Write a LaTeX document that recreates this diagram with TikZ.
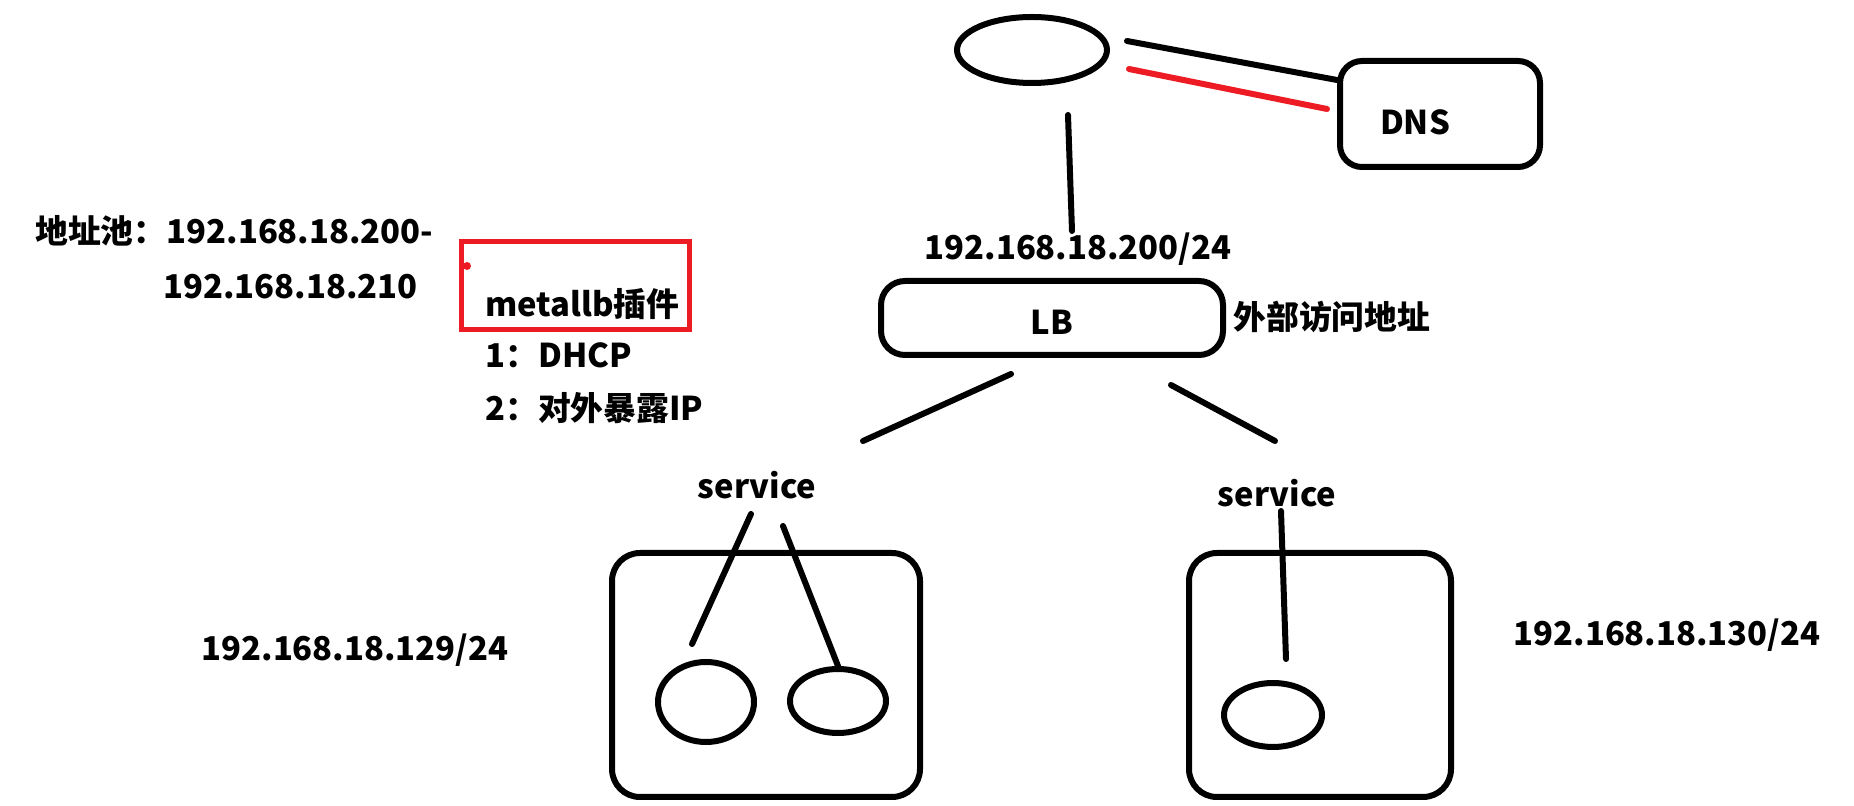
\documentclass[tikz,border=0pt]{standalone}
\usepackage{fontspec}
\setmainfont{Noto Sans CJK SC}
\usepackage{tikz}
\usetikzlibrary{shapes.geometric}
\definecolor{penred}{rgb}{0.93, 0.11, 0.14}

\begin{document}
\begin{tikzpicture}[x=.5pt, y=-.5pt,
    stroke/.style={line width=3pt, line cap=round},
    txt/.style={font=\fontsize{16.4}{20}\selectfont\bfseries, inner sep=0pt},
    pod/.style={draw, ellipse, line width=3pt, inner sep=0pt},
    frame/.style={draw, line width=3pt, rounded corners=14pt, inner sep=0pt}]
    \useasboundingbox (0,0) rectangle (1854,806);
    % top: client and DNS
    \node[pod, minimum width=75pt, minimum height=33pt] (client) at (1032,50) {};
    \node[frame, rounded corners=11pt, minimum width=100pt, minimum height=53pt] (dns) at (1440,114) {};
    \node[txt] (dnstext) at (1415,122) {DNS};
    \coordinate (q1) at (1127,41);
    \coordinate (q2) at (1129,69);
    \coordinate (r1) at (1327,109);
    \draw[stroke] (q1) -- (dns.west |- 0,80);
    \draw[stroke, penred, line width=3pt] (q2) -- (r1);
    % LB
    \node[txt] (lbip) at (1078,249) {192.168.18.200/24};
    \node[frame, rounded corners=12pt, minimum width=171pt, minimum height=37pt] (lb) at (1052,318) {};
    \node[txt] (lbtext) at (1052,322) {LB};
    \node[txt, anchor=west] (extaddr) at (1233,317) {外部访问地址};
    \coordinate (v1) at (1068,115);
    \coordinate (v2) at (1072,231);
    \draw[stroke] (v1) -- (v2);
    % services
    \node[txt] (svcA) at (757,485) {service};
    \node[txt] (svcB) at (1277,493) {service};
    \coordinate (a1) at (1011,374);
    \coordinate (a2) at (863,441);
    \coordinate (b1) at (1171,385);
    \coordinate (b2) at (1275,441);
    \draw[stroke] (a1) -- (a2);
    \draw[stroke] (b1) -- (b2);
    % nodes and pods
    \node[frame, minimum width=154pt, minimum height=122pt] (nodeA) at (766,675) {};
    \node[frame, minimum width=131pt, minimum height=122pt] (nodeB) at (1320,675) {};
    \node[pod, minimum width=48pt, minimum height=40pt] (podA1) at (706,702) {};
    \node[pod, minimum width=48pt, minimum height=32pt] (podA2) at (838,701) {};
    \node[pod, minimum width=49pt, minimum height=32pt] (podB1) at (1273,715) {};
    \coordinate (c1) at (751,514);
    \coordinate (c2) at (692,644);
    \coordinate (d1) at (783,526);
    \coordinate (e1) at (1281,511);
    \coordinate (e2) at (1286,659);
    \draw[stroke] (c1) -- (c2);
    \draw[stroke] (d1) -- (podA2.north);
    \draw[stroke] (e1) -- (e2);
    \node[txt] (ipA) at (355,650) {192.168.18.129/24};
    \node[txt] (ipB) at (1667,635) {192.168.18.130/24};
    % address pool and metallb
    \node[txt, anchor=west] (pool1) at (35,231) {地址池：192.168.18.200-};
    \node[txt, anchor=west] (pool2) at (163,287) {192.168.18.210};
    \node[draw=penred, line width=2.5pt, minimum width=114pt, minimum height=44pt] (mlb) at (575,286) {};
    \fill[penred] (467,266) circle (2pt);
    \node[txt, anchor=west] (mlbtext) at (485,304) {metallb插件};
    \node[txt, anchor=west] (step1) at (485,355) {1：DHCP};
    \node[txt, anchor=west] (step2) at (485,408) {2：对外暴露IP};
\end{tikzpicture}
\end{document}
